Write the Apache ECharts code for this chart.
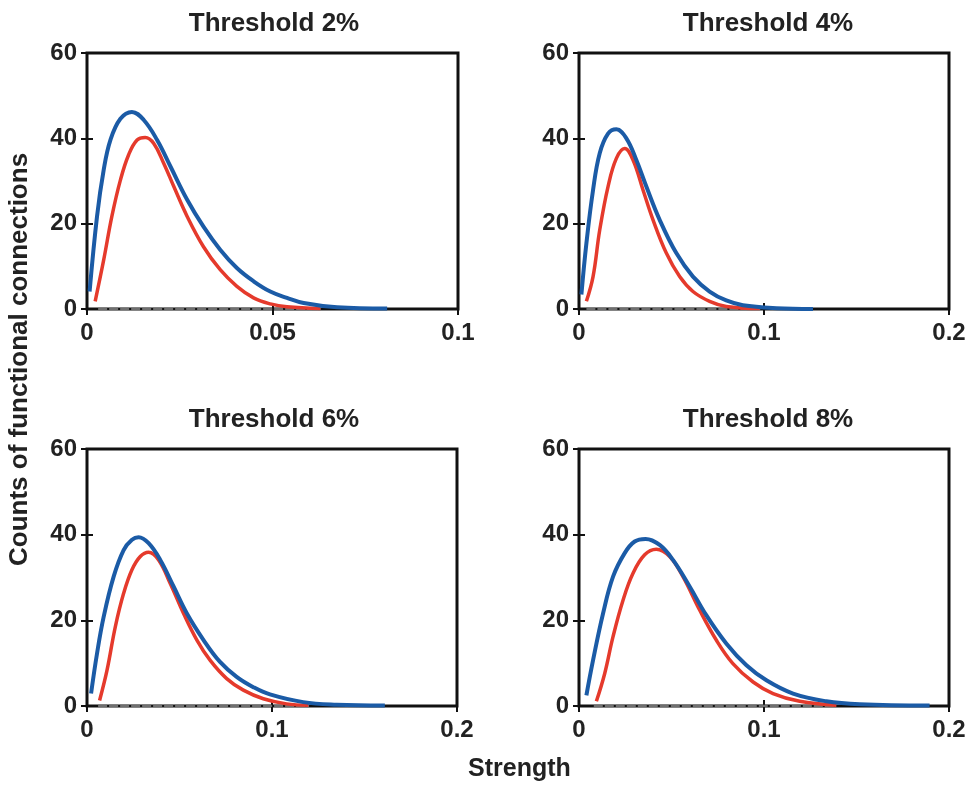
<!DOCTYPE html>
<html>
<head>
<meta charset="utf-8">
<script src="https://cdn.jsdelivr.net/npm/echarts@6/dist/echarts.min.js"></script>
<style>html,body{margin:0;padding:0;background:#fff;}#c{width:969px;height:787px;}</style>
</head>
<body>
<div id="c"></div>
<script>
// ---- Data ----
const panelTitles = ['Threshold 2%', 'Threshold 4%', 'Threshold 6%', 'Threshold 8%'];
const xMaxs = [0.1, 0.2, 0.2, 0.2];
const xIntervals = [0.05, 0.1, 0.1, 0.1];
const yMax = 60, yInterval = 20;

// Blue curves [strength, count]
const blue2 = [[0.0007,4.1],[0.0027,21.7],[0.0045,32.6],[0.0063,39.6],[0.009,44.6],[0.0121,46.2],[0.0153,44.3],[0.0189,39.6],[0.0225,33.4],[0.027,25.6],[0.0314,19.3],[0.0359,13.9],[0.0404,9.6],[0.0449,6.5],[0.0494,4.1],[0.0539,2.6],[0.0584,1.4],[0.0674,0.4],[0.0809,0.1]];
const blue4 = [[0.0013,3.4],[0.004,15.4],[0.0076,27.9],[0.0112,36.5],[0.0157,41.1],[0.0202,42.1],[0.0256,40.0],[0.031,34.9],[0.0364,28.7],[0.0436,20.9],[0.0526,13.1],[0.0616,7.6],[0.0706,4.1],[0.0796,2.0],[0.0886,0.9],[0.1067,0.2],[0.1265,0.0]];
const blue6 = [[0.0022,2.9],[0.0054,12.2],[0.009,20.8],[0.0144,30.2],[0.0198,36.4],[0.0243,38.8],[0.0279,39.4],[0.0333,38.0],[0.0396,34.1],[0.0468,27.9],[0.054,21.6],[0.063,15.4],[0.0719,10.3],[0.0809,6.8],[0.0899,4.4],[0.0989,2.7],[0.1169,0.9],[0.1349,0.3],[0.161,0.1]];
const blue8 = [[0.004,2.5],[0.0076,10.7],[0.013,21.6],[0.0184,30.2],[0.0247,35.7],[0.0301,38.4],[0.036,39.0],[0.0436,37.6],[0.0508,34.1],[0.0598,27.9],[0.0688,21.2],[0.0796,14.6],[0.0905,9.5],[0.1013,6.0],[0.1157,2.9],[0.1337,1.1],[0.1517,0.4],[0.1895,0.1]];

// Red curves [strength, count]
const red2 = [[0.0022,1.8],[0.0045,11.5],[0.0067,21.7],[0.009,30.2],[0.0112,36.1],[0.0135,39.6],[0.0157,40.2],[0.018,38.8],[0.0207,34.1],[0.0234,28.7],[0.027,21.7],[0.0314,14.6],[0.0359,9.2],[0.0404,5.3],[0.0449,2.6],[0.0494,1.2],[0.0539,0.5],[0.0629,0.1]];
const red4 = [[0.004,1.8],[0.0076,7.6],[0.0112,18.5],[0.0157,28.7],[0.0202,35.3],[0.0247,37.6],[0.0292,34.9],[0.0346,27.9],[0.04,20.9],[0.0472,13.1],[0.0544,7.6],[0.0616,4.1],[0.0706,1.8],[0.0796,0.6],[0.0977,0.1]];
const red6 = [[0.0068,1.3],[0.0108,8.3],[0.0153,18.5],[0.0198,26.3],[0.0243,31.8],[0.0288,34.9],[0.0333,35.9],[0.0387,34.1],[0.045,28.6],[0.0522,21.6],[0.0594,15.4],[0.0665,10.7],[0.0755,6.4],[0.0845,3.7],[0.0953,1.7],[0.1079,0.5],[0.1196,0.2]];
const red8 = [[0.0094,1.1],[0.0139,7.6],[0.0184,16.2],[0.0238,24.7],[0.0292,31.0],[0.0355,35.3],[0.0418,36.6],[0.049,34.9],[0.0562,30.2],[0.0652,22.4],[0.0742,15.4],[0.0832,9.9],[0.0941,5.6],[0.1049,2.9],[0.1193,1.1],[0.1391,0.2]];

// Grey dashed baseline extents [start, end] at count 0
const base2 = [[0.003,0],[0.063,0]];
const base4 = [[0.004,0],[0.098,0]];
const base6 = [[0.006,0],[0.12,0]];
const base8 = [[0.008,0],[0.139,0]];

const blues = [blue2, blue4, blue6, blue8];
const reds = [red2, red4, red6, red8];
const bases = [base2, base4, base6, base8];

// ---- Layout ----
const grids = [
  {left: 87, top: 53, width: 371, height: 256},
  {left: 579, top: 53, width: 370, height: 256},
  {left: 87, top: 449, width: 370, height: 257},
  {left: 579, top: 449, width: 370, height: 257}
];
const titlePos = [[269, 6], [763, 6], [269, 402], [763, 402]];
const FONT = '"Liberation Sans", Arial, sans-serif';
const BLUE = '#1b5ba6', RED = '#e53a2c', GREY = '#6f6f6f';

const option = {
  animation: false,
  backgroundColor: '#fff',
  title: [],
  grid: [],
  xAxis: [],
  yAxis: [],
  series: [],
  graphic: [
    {type: 'text', left: 468, top: 757, style: {text: 'Strength', font: 'bold 25px ' + FONT, fill: '#222'}},
    {type: 'text', x: 7, y: 566, rotation: Math.PI / 2,
     style: {text: 'Counts of functional connections', font: 'bold 26px ' + FONT, fill: '#222', textAlign: 'left', textVerticalAlign: 'top'}}
  ]
};

grids.forEach((g, i) => {
  option.grid.push(Object.assign({show: true, borderColor: '#111', borderWidth: 3, backgroundColor: '#fff'}, g));
  option.title.push({
    text: panelTitles[i], left: titlePos[i][0], top: titlePos[i][1], textAlign: 'center',
    textStyle: {fontFamily: FONT, fontWeight: 'bold', fontSize: 26, color: '#222'}
  });
  const tickStyle = {show: true, inside: true, length: 6, lineStyle: {color: '#111', width: 2}};
  option.xAxis.push({
    type: 'value', gridIndex: i, position: 'bottom', min: 0, max: xMaxs[i], interval: xIntervals[i],
    axisLine: {show: false}, axisTick: tickStyle, splitLine: {show: false},
    axisLabel: {fontFamily: FONT, fontWeight: 'bold', fontSize: 24, color: '#222', margin: 12}
  });
  option.xAxis.push({
    type: 'value', gridIndex: i, position: 'top', min: 0, max: xMaxs[i], interval: xIntervals[i],
    axisLine: {show: false}, axisTick: tickStyle, splitLine: {show: false}, axisLabel: {show: false}
  });
  option.yAxis.push({
    type: 'value', gridIndex: i, position: 'left', min: 0, max: yMax, interval: yInterval,
    axisLine: {show: false}, axisTick: tickStyle, splitLine: {show: false},
    axisLabel: {fontFamily: FONT, fontWeight: 'bold', fontSize: 24, color: '#222', margin: 10}
  });
  option.yAxis.push({
    type: 'value', gridIndex: i, position: 'right', min: 0, max: yMax, interval: yInterval,
    axisLine: {show: false}, axisTick: tickStyle, splitLine: {show: false}, axisLabel: {show: false}
  });
  const xi = i * 2, yi = i * 2;
  option.series.push({
    type: 'line', xAxisIndex: xi, yAxisIndex: yi, data: bases[i], symbol: 'none',
    lineStyle: {color: GREY, width: 2.5, type: [9, 2]}, z: 2
  });
  option.series.push({
    type: 'line', xAxisIndex: xi, yAxisIndex: yi, data: reds[i], symbol: 'none', smooth: 0.4,
    lineStyle: {color: RED, width: 3.5}, z: 3
  });
  option.series.push({
    type: 'line', xAxisIndex: xi, yAxisIndex: yi, data: blues[i], symbol: 'none', smooth: 0.4,
    lineStyle: {color: BLUE, width: 4}, z: 4
  });
});

const chart = echarts.init(document.getElementById('c'), null, {renderer: 'canvas'});
chart.setOption(option);
</script>
</body>
</html>
